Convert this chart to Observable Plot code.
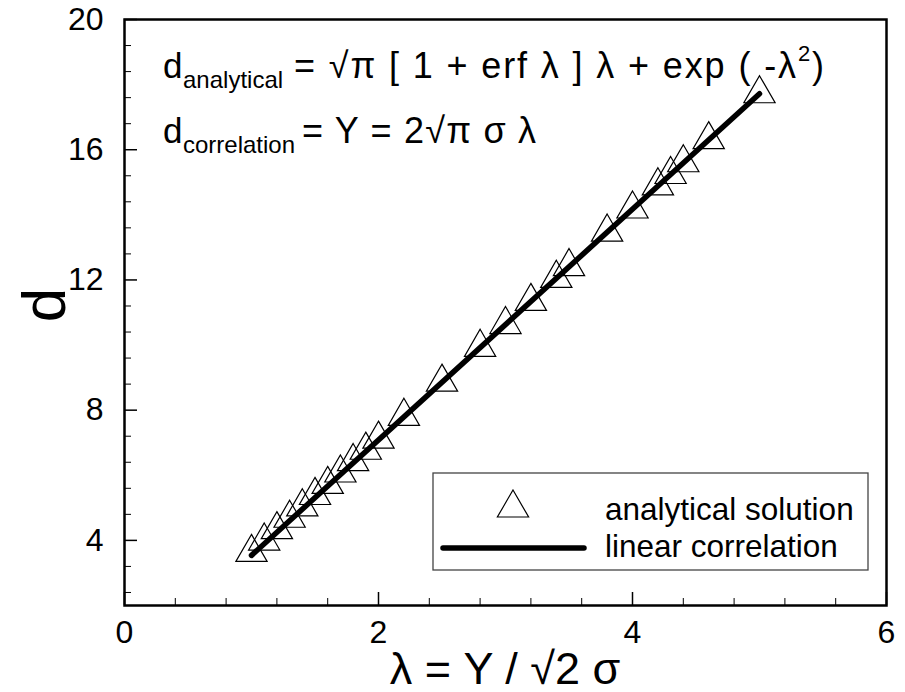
<!DOCTYPE html>
<html><head><meta charset="utf-8">
<script src="https://cdn.jsdelivr.net/npm/d3@7"></script>
<script src="https://cdn.jsdelivr.net/npm/@observablehq/plot@0.6"></script>
<style>body{margin:0;background:#fff} svg{display:block}</style>
</head><body><div id="chart"></div>
<script>
// ---- data ----
const lambdaValues = [1.0,1.1,1.2,1.3,1.4,1.5,1.6,1.7,1.8,1.9,2.0,2.2,2.5,2.8,3.0,3.2,3.4,3.5,3.8,4.0,4.2,4.3,4.4,4.6,5.0];
const dAnalytical  = [3.63,3.98,4.33,4.68,5.03,5.38,5.72,6.07,6.42,6.77,7.11,7.81,8.86,9.93,10.63,11.34,12.05,12.41,13.47,14.18,14.89,15.24,15.60,16.31,17.72];
const lineLambda = [1, 5];
const lineD = [3.54, 17.72];
const xMajorTicks = [0, 2, 4, 6];
const xMinorTicks = [0.4,0.8,1.2,1.6,2.4,2.8,3.2,3.6,4.4,4.8,5.2,5.6];
const yMajorTicks = [4, 8, 12, 16, 20];
const yMinorTicks = [2.4,3.2,4.8,5.6,6.4,7.2,8.8,9.6,10.4,11.2,12.8,13.6,14.4,15.2,16.8,17.6,18.4,19.2];
const legendLabels = ["analytical solution", "linear correlation"];
const xTitle = "λ = Y / √2 σ";
const yTitle = "d";

const W = 905, H = 692, mL = 124, mR = 19, mT = 19, mB = 87;
const FONT = "'Liberation Sans', Arial, Helvetica, sans-serif";
const pts = lambdaValues.map((x, i) => ({x, y: dAnalytical[i]}));
const corr = lineLambda.map((x, i) => ({x, y: lineD[i]}));
const fmt = d => String(d);

const chart = Plot.plot({
  width: W, height: H,
  marginLeft: mL, marginRight: mR, marginTop: mT, marginBottom: mB,
  style: {fontFamily: FONT, background: "#fff", color: "#000", overflow: "visible"},
  x: {domain: [0, 6]},
  y: {domain: [2, 20]},
  marks: [
    Plot.dot(pts, {x: "x", y: "y", symbol: "triangle", r: 11.6, fill: "none", stroke: "#000", strokeWidth: 1.2}),
    Plot.line(corr, {x: "x", y: "y", stroke: "#000", strokeWidth: 5.5, strokeLinecap: "round"}),
    Plot.axisX(xMajorTicks, {tickSize: -13, strokeWidth: 1.5, tickFormat: () => "", label: null}),
    Plot.axisX(xMinorTicks, {tickSize: -7, tickFormat: () => "", label: null}),
    Plot.axisX(xMajorTicks, {tickSize: 0, tickPadding: 15, fontSize: 32, tickFormat: fmt, label: null}),
    Plot.axisY(yMajorTicks, {tickSize: -13, strokeWidth: 1.5, tickFormat: () => "", label: null}),
    Plot.axisY(yMinorTicks, {tickSize: -7, tickFormat: () => "", label: null}),
    Plot.axisY(yMajorTicks, {tickSize: 0, tickPadding: 21, fontSize: 32, tickFormat: fmt, label: null}),
    Plot.frame({stroke: "#000", strokeWidth: 2.5})
  ]
});
document.getElementById("chart").appendChild(chart);

const svg = d3.select(chart);
const g = svg.append("g").attr("font-family", FONT).attr("fill", "#000").attr("text-anchor", "start");

// axis titles
g.append("text").attr("x", 505).attr("y", 684).attr("text-anchor", "middle")
  .attr("font-size", 45).text(xTitle);
g.append("text").attr("transform", "translate(65,305) rotate(-90)").attr("text-anchor", "middle")
  .attr("font-size", 62).text(yTitle);

// formulas
g.append("text").attr("x", 163).attr("y", 78).attr("font-size", 35).text("d");
g.append("text").attr("x", 183).attr("y", 88).attr("font-size", 24).text("analytical");
g.append("text").attr("x", 294).attr("y", 78).attr("font-size", 36)
  .attr("textLength", 502).attr("lengthAdjust", "spacing")
  .text("= √π [ 1 + erf λ ] λ + exp ( -λ");
g.append("text").attr("x", 798).attr("y", 61).attr("font-size", 22).text("2");
g.append("text").attr("x", 812).attr("y", 78).attr("font-size", 36).text(")");

g.append("text").attr("x", 163).attr("y", 143).attr("font-size", 35).text("d");
g.append("text").attr("x", 183).attr("y", 153).attr("font-size", 24).text("correlation");
g.append("text").attr("x", 302).attr("y", 143).attr("font-size", 36)
  .attr("textLength", 234).attr("lengthAdjust", "spacing")
  .text("= Y = 2√π σ λ");

// legend
const lg = svg.append("g").attr("font-family", FONT).attr("text-anchor", "start");
lg.append("rect").attr("x", 433).attr("y", 473).attr("width", 435).attr("height", 97)
  .attr("fill", "#fff").attr("stroke", "#444").attr("stroke-width", 1.3);
lg.append("path").attr("transform", "translate(513,508)")
  .attr("d", d3.symbol(d3.symbolTriangle, Math.PI * 11.6 * 11.6)())
  .attr("fill", "none").attr("stroke", "#000").attr("stroke-width", 1.2);
lg.append("line").attr("x1", 443).attr("x2", 584).attr("y1", 548).attr("y2", 548)
  .attr("stroke", "#000").attr("stroke-width", 5.5).attr("stroke-linecap", "round");
lg.append("text").attr("x", 605).attr("y", 520).attr("font-size", 31.5).text(legendLabels[0]);
lg.append("text").attr("x", 605).attr("y", 557).attr("font-size", 31.5).text(legendLabels[1]);
</script>
</body></html>
